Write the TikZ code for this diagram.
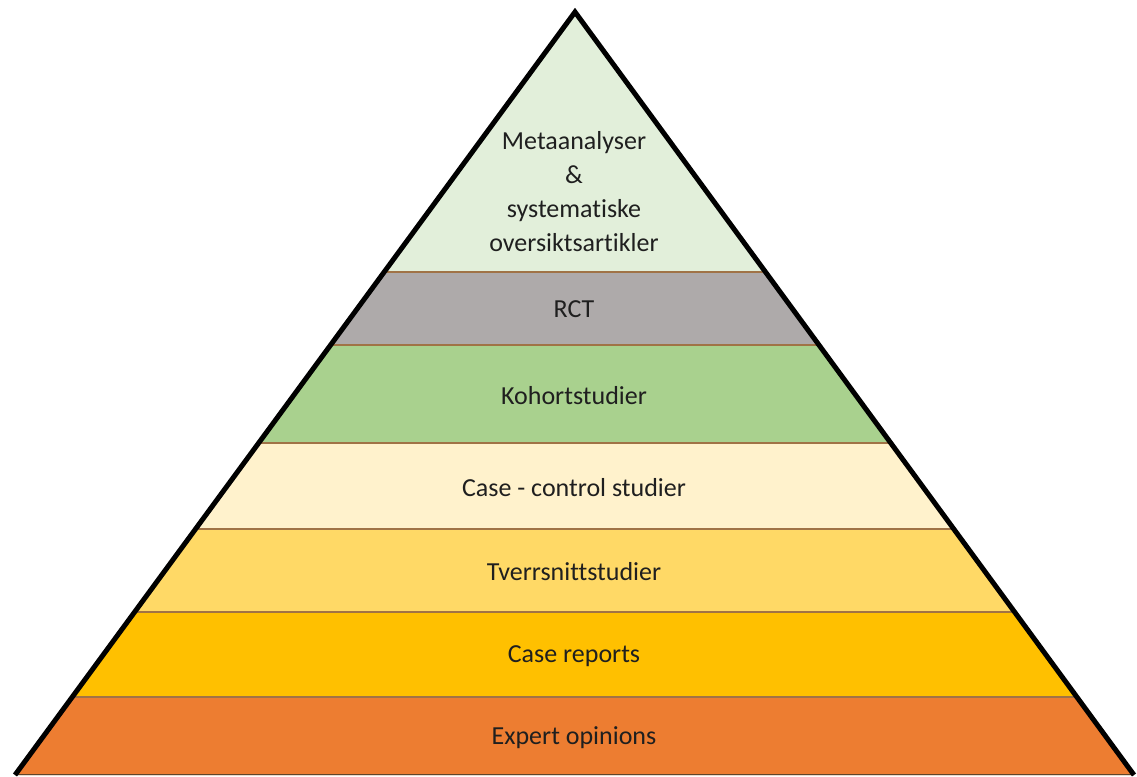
\documentclass[tikz,border=0pt]{standalone}
\usepackage{fontspec}
\setmainfont{Carlito}[RawFeature={-liga;-clig;-calt;-dlig}]
\definecolor{cTop}{HTML}{E2EFDA}
\definecolor{cRCT}{HTML}{AEAAAA}
\definecolor{cKoh}{HTML}{A9D18E}
\definecolor{cCase}{HTML}{FFF2CC}
\definecolor{cTver}{HTML}{FFD966}
\definecolor{cRep}{HTML}{FFC000}
\definecolor{cExp}{HTML}{ED7D31}
\definecolor{sep}{RGB}{160,115,70}
\definecolor{txt}{HTML}{1F1F1F}
\tikzset{
  lbl/.style={font=\fontsize{26}{34}\selectfont, text=txt, align=center, inner sep=0pt},
  seplin/.style={draw=sep, line width=1.6pt},
  outline/.style={draw=black, line width=5pt, line join=miter, line cap=butt}
}
\begin{document}
\begin{tikzpicture}[x=1pt,y=-1pt]
\useasboundingbox (0,0) rectangle (1137,776);
\coordinate (A) at (575,12);
\coordinate (BL) at (15,775);
\coordinate (BR) at (1134,775);
\begin{scope}
  \clip (A) -- (BL) -- (BR) -- cycle;
  \fill[cTop]  (0,0)   rectangle (1137,272);
  \fill[cRCT]  (0,272) rectangle (1137,345);
  \fill[cKoh]  (0,345) rectangle (1137,443);
  \fill[cCase] (0,443) rectangle (1137,529);
  \fill[cTver] (0,529) rectangle (1137,612);
  \fill[cRep]  (0,612) rectangle (1137,697);
  \fill[cExp]  (0,697) rectangle (1137,776);
  \draw[seplin] (0,272) -- (1137,272);
  \draw[seplin] (0,345) -- (1137,345);
  \draw[seplin] (0,443) -- (1137,443);
  \draw[seplin] (0,529) -- (1137,529);
  \draw[seplin] (0,612) -- (1137,612);
  \draw[seplin] (0,697) -- (1137,697);
  \draw[draw=sep!60!black, line width=2pt] (BL) -- (BR);
\end{scope}
\draw[outline] (BL) -- (A) -- (BR);
\node[lbl] (meta) at (574,192) {Metaanalyser\\\&\\systematiske\\oversiktsartikler};
\node[lbl] (rct) at (574,309) {RCT};
\node[lbl] (koh) at (574,396) {Kohortstudier};
\node[lbl] (cc) at (574,488) {Case - control studier};
\node[lbl] (tv) at (574,572) {Tverrsnittstudier};
\node[lbl] (cr) at (574,656) {Case reports};
\node[lbl] (ex) at (574,738) {Expert opinions};
\end{tikzpicture}
\end{document}
